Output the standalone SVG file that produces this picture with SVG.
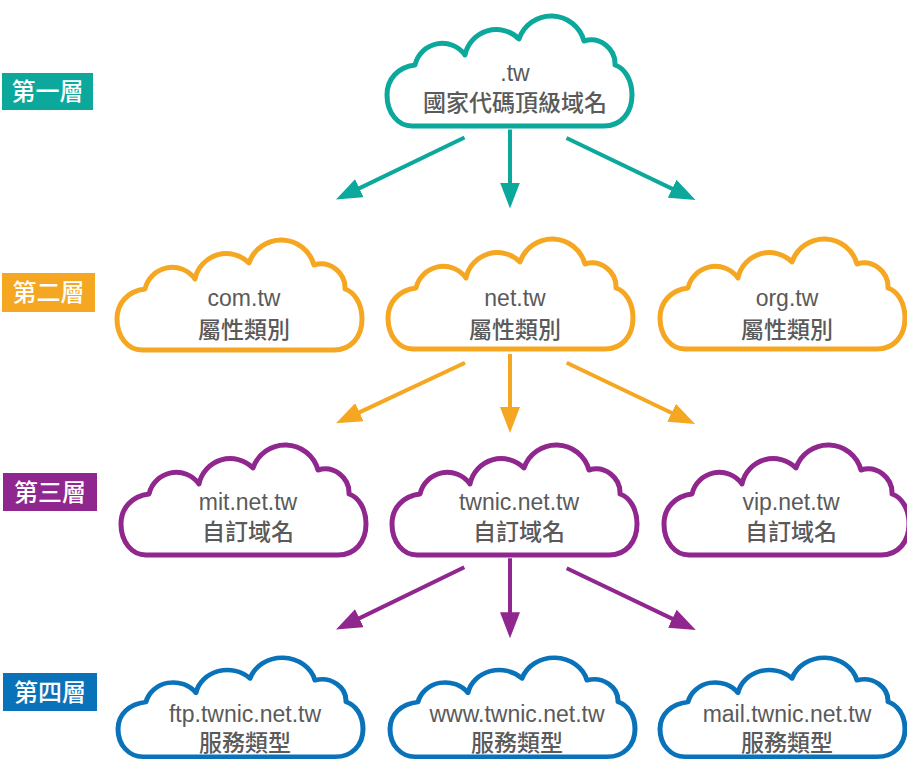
<svg xmlns="http://www.w3.org/2000/svg" width="907" height="762" viewBox="0 0 907 762">
<style>
.cloud{fill:#fff;stroke-width:5;stroke-linejoin:round}
.teal{stroke:#0CA89C}
.orange{stroke:#F6A721}
.purple{stroke:#90278E}
.blue{stroke:#0A72B9}
.t1{font-family:"Liberation Sans",Arial,sans-serif;font-size:23px;fill:#5A5A5A;text-anchor:middle}
.t2{font-family:"Noto Sans CJK TC","Noto Sans CJK SC",sans-serif;font-size:23px;fill:#5A5A5A;text-anchor:middle;font-weight:500}
.lab{font-family:"Noto Sans CJK TC","Noto Sans CJK SC",sans-serif;font-size:24px;fill:#fff;text-anchor:middle;font-weight:500}
.ln{stroke-width:4;fill:none}
</style>
<defs>
<path id="cl" d="M 28,112 L 220,112 C 237,112 248,99 248,81 C 248,65 240,54 231,51 A 24 24 0 0 0 200,27 A 34 34 0 0 0 135,25 A 32 32 0 0 0 81,41 A 28 28 0 0 0 31,51 C 14,53 3,65 3,81 C 3,99 14,112 28,112 Z"/>
<marker id="mT" markerUnits="userSpaceOnUse" markerWidth="26" markerHeight="20" refX="2" refY="10" orient="auto" viewBox="0 0 26 20"><path d="M0,0 L26,10 L0,20 Z" fill="#0CA89C"/></marker>
<marker id="mO" markerUnits="userSpaceOnUse" markerWidth="26" markerHeight="20" refX="2" refY="10" orient="auto" viewBox="0 0 26 20"><path d="M0,0 L26,10 L0,20 Z" fill="#F6A721"/></marker>
<marker id="mP" markerUnits="userSpaceOnUse" markerWidth="26" markerHeight="20" refX="2" refY="10" orient="auto" viewBox="0 0 26 20"><path d="M0,0 L26,10 L0,20 Z" fill="#90278E"/></marker>
</defs>

<g id="labels">
<g id="layer1"><rect x="2" y="73" width="91" height="37" fill="#0CA89C"/><text class="lab" x="47.5" y="100">第一層</text></g>
<g id="layer2"><rect x="2" y="273" width="93" height="39" fill="#F6A721"/><text class="lab" x="48.5" y="301">第二層</text></g>
<g id="layer3"><rect x="3" y="473" width="94" height="38" fill="#90278E"/><text class="lab" x="50" y="501">第三層</text></g>
<g id="layer4"><rect x="3" y="673" width="94" height="38" fill="#0A72B9"/><text class="lab" x="50" y="701">第四層</text></g>
</g>

<g id="connectors">
<line class="ln" stroke="#0CA89C" x1="464.5" y1="137.5" x2="357.6" y2="189.1" marker-end="url(#mT)"/>
<line class="ln" stroke="#0CA89C" x1="510" y1="129.5" x2="510" y2="184.5" marker-end="url(#mT)"/>
<line class="ln" stroke="#0CA89C" x1="566.5" y1="138" x2="673.9" y2="189.6" marker-end="url(#mT)"/>
<line class="ln" stroke="#F6A721" x1="465" y1="362.7" x2="357.7" y2="413.1" marker-end="url(#mO)"/>
<line class="ln" stroke="#F6A721" x1="510" y1="354" x2="510" y2="409" marker-end="url(#mO)"/>
<line class="ln" stroke="#F6A721" x1="566.7" y1="362.7" x2="673.4" y2="413.7" marker-end="url(#mO)"/>
<line class="ln" stroke="#90278E" x1="464.3" y1="567.3" x2="357.6" y2="619.1" marker-end="url(#mP)"/>
<line class="ln" stroke="#90278E" x1="510" y1="558.3" x2="510" y2="614.3" marker-end="url(#mP)"/>
<line class="ln" stroke="#90278E" x1="566.7" y1="568.3" x2="674.1" y2="619.6" marker-end="url(#mP)"/>
</g>

<g id="node-tw"><use href="#cl" class="cloud teal" transform="translate(384,14)"/><text class="t1" x="515" y="81">.tw</text><text class="t2" x="515" y="111">國家代碼頂級域名</text></g>

<g id="node-com"><use href="#cl" class="cloud orange" transform="translate(114,238)"/><text class="t1" x="244" y="306">com.tw</text><text class="t2" x="244" y="338">屬性類別</text></g>
<g id="node-net"><use href="#cl" class="cloud orange" transform="translate(385,237)"/><text class="t1" x="515" y="306">net.tw</text><text class="t2" x="515" y="338">屬性類別</text></g>
<g id="node-org"><use href="#cl" class="cloud orange" transform="translate(657,237)"/><text class="t1" x="787" y="306">org.tw</text><text class="t2" x="787" y="338">屬性類別</text></g>

<g id="node-mit"><use href="#cl" class="cloud purple" transform="translate(118,443)"/><text class="t1" x="248" y="510">mit.net.tw</text><text class="t2" x="248" y="540">自訂域名</text></g>
<g id="node-twnic"><use href="#cl" class="cloud purple" transform="translate(389,443)"/><text class="t1" x="519" y="510">twnic.net.tw</text><text class="t2" x="519" y="540">自訂域名</text></g>
<g id="node-vip"><use href="#cl" class="cloud purple" transform="translate(661,443)"/><text class="t1" x="791" y="510">vip.net.tw</text><text class="t2" x="791" y="540">自訂域名</text></g>

<g id="node-ftp"><use href="#cl" class="cloud blue" transform="translate(115,656) scale(1,0.9)"/><text class="t1" x="245" y="722">ftp.twnic.net.tw</text><text class="t2" x="245" y="751">服務類型</text></g>
<g id="node-www"><use href="#cl" class="cloud blue" transform="translate(387,656) scale(1,0.9)"/><text class="t1" x="517" y="722">www.twnic.net.tw</text><text class="t2" x="517" y="751">服務類型</text></g>
<g id="node-mail"><use href="#cl" class="cloud blue" transform="translate(657,656) scale(1,0.9)"/><text class="t1" x="787" y="722">mail.twnic.net.tw</text><text class="t2" x="787" y="751">服務類型</text></g>
</svg>
